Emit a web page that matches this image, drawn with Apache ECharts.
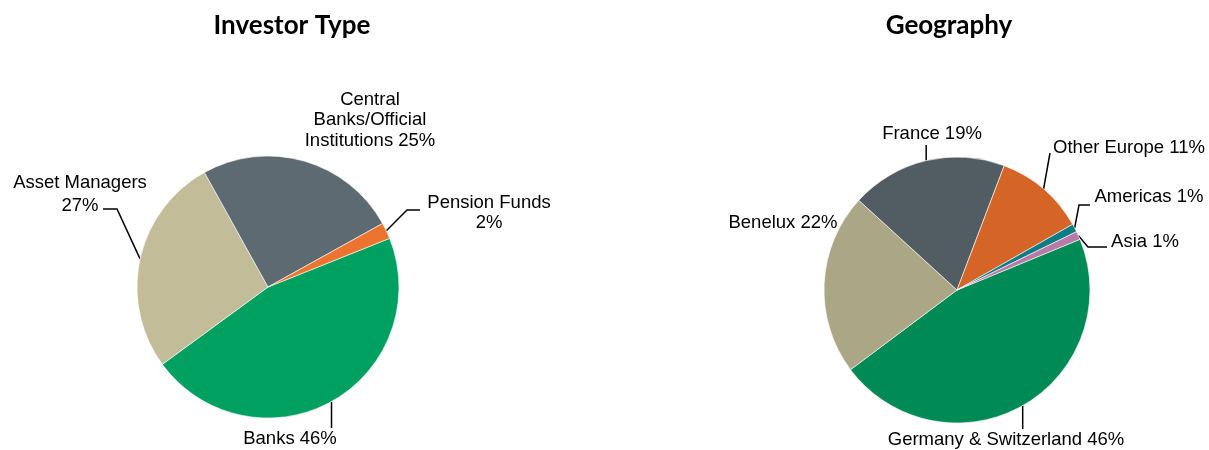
<!DOCTYPE html>
<html>
<head>
<meta charset="utf-8">
<script src="https://cdn.jsdelivr.net/npm/echarts@6/dist/echarts.min.js"></script>
<style>
  html, body { margin: 0; padding: 0; background: #fff; }
  #main { width: 1209px; height: 450px; }
</style>
</head>
<body>
<div id="main"></div>
<script>
// data (percent shares)
const investorNames = ['Banks', 'Asset Managers', 'Central Banks/Official Institutions', 'Pension Funds'];
const investorValues = [46, 27, 25, 2];
const investorWrapped = ['Banks', 'Asset Managers\n', 'Central\nBanks/Official\nInstitutions', 'Pension Funds\n'];
const investorColors = ['#00A060', '#C3BC98', '#5E6A71', '#EC742E'];

const geoNames = ['Germany & Switzerland', 'Benelux', 'France', 'Other Europe', 'Americas', 'Asia'];
const geoValues = [46, 22, 19, 11, 1, 1];
const geoColors = ['#008A55', '#ABA685', '#525D63', '#D56527', '#0E7C85', '#B77AA6'];

// label placement (label centre + leader shape)
const investorLabels = [
  { x: 290, y: 439, lh: 20, line: { kind: 'v', gap: -11 } },
  { x: 80, y: 194, lh: 23, line: { kind: 'h', dx: 23, dy: 15, len: 14 } },
  { x: 370, y: 120, lh: 20.5, line: null },
  { x: 489, y: 213, lh: 20, line: { kind: 'h', dx: -69, dy: -3, len: -13 } }
];
const geoLabels = [
  { x: 1006, y: 440, lh: 20, line: { kind: 'v', gap: -11 } },
  { x: 783, y: 223, lh: 20, line: null },
  { x: 932, y: 134, lh: 20, line: { kind: 'v', gap: 11 } },
  { x: 1129, y: 148, lh: 20, line: { kind: 'd', dx: -79, dy: 5 } },
  { x: 1149, y: 197, lh: 20, line: { kind: 'h', dx: -59, dy: 8, len: -11 } },
  { x: 1145, y: 242, lh: 20, line: { kind: 'h', dx: -38, dy: 5, len: -19 } }
];

const Chart = echarts.init(document.getElementById('main'));

function makeLayout(labels) {
  return function (params) {
    const lab = labels[params.dataIndex];
    const out = { x: lab.x, y: lab.y, align: 'center', verticalAlign: 'middle' };
    const l = lab.line;
    if (l && params.labelLinePoints) {
      const p0 = params.labelLinePoints[0];
      if (l.kind === 'v') {
        out.labelLinePoints = [p0, [p0[0], lab.y + l.gap], [p0[0], lab.y + l.gap]];
      } else if (l.kind === 'd') {
        const end = [lab.x + l.dx, lab.y + l.dy];
        out.labelLinePoints = [p0, end, end];
      } else {
        const end = [lab.x + l.dx, lab.y + l.dy];
        out.labelLinePoints = [p0, [end[0] + l.len, end[1]], end];
      }
    }
    return out;
  };
}

function makeData(names, values, colors, labels, wrapped) {
  return names.map((n, i) => ({
    name: n,
    value: values[i],
    itemStyle: { color: colors[i] },
    label: {
      lineHeight: labels[i].lh,
      formatter: () => {
        const w = wrapped ? wrapped[i] : n;
        return w + (w.endsWith('\n') ? '' : ' ') + values[i] + '%';
      }
    },
    labelLine: { show: !!labels[i].line }
  }));
}

const baseSeries = {
  type: 'pie',
  clockwise: true,
  avoidLabelOverlap: false,
  silent: true,
  itemStyle: { borderColor: '#fff', borderWidth: 0.6 },
  label: {
    show: true,
    position: 'outside',
    color: '#000',
    fontFamily: 'Liberation Sans, Arial, sans-serif',
    fontSize: 18.5
  },
  labelLine: {
    show: true,
    length: 10,
    length2: 10,
    lineStyle: { color: '#000', width: 1.5 }
  }
};

const titleStyle = { fontFamily: 'Lato', fontWeight: 'bold', fontSize: 26, color: '#000' };

const chart_option = {
  animation: false,
  backgroundColor: '#fff',
  title: [
    { text: 'Investor Type', left: 287, top: 8, textAlign: 'center', textStyle: titleStyle },
    { text: 'Geography', left: 944, top: 8, textAlign: 'center', textStyle: titleStyle }
  ],
  series: [
    Object.assign({}, baseSeries, {
      name: 'Investor Type',
      center: [268, 287],
      radius: 131,
      startAngle: 21.8,
      labelLayout: makeLayout(investorLabels),
      data: makeData(investorNames, investorValues, investorColors, investorLabels, investorWrapped)
    }),
    Object.assign({}, baseSeries, {
      name: 'Geography',
      center: [957, 290],
      radius: 133,
      startAngle: 22.4,
      labelLayout: makeLayout(geoLabels),
      data: makeData(geoNames, geoValues, geoColors, geoLabels, null)
    })
  ]
};

Chart.setOption(chart_option);
</script>
</body>
</html>
